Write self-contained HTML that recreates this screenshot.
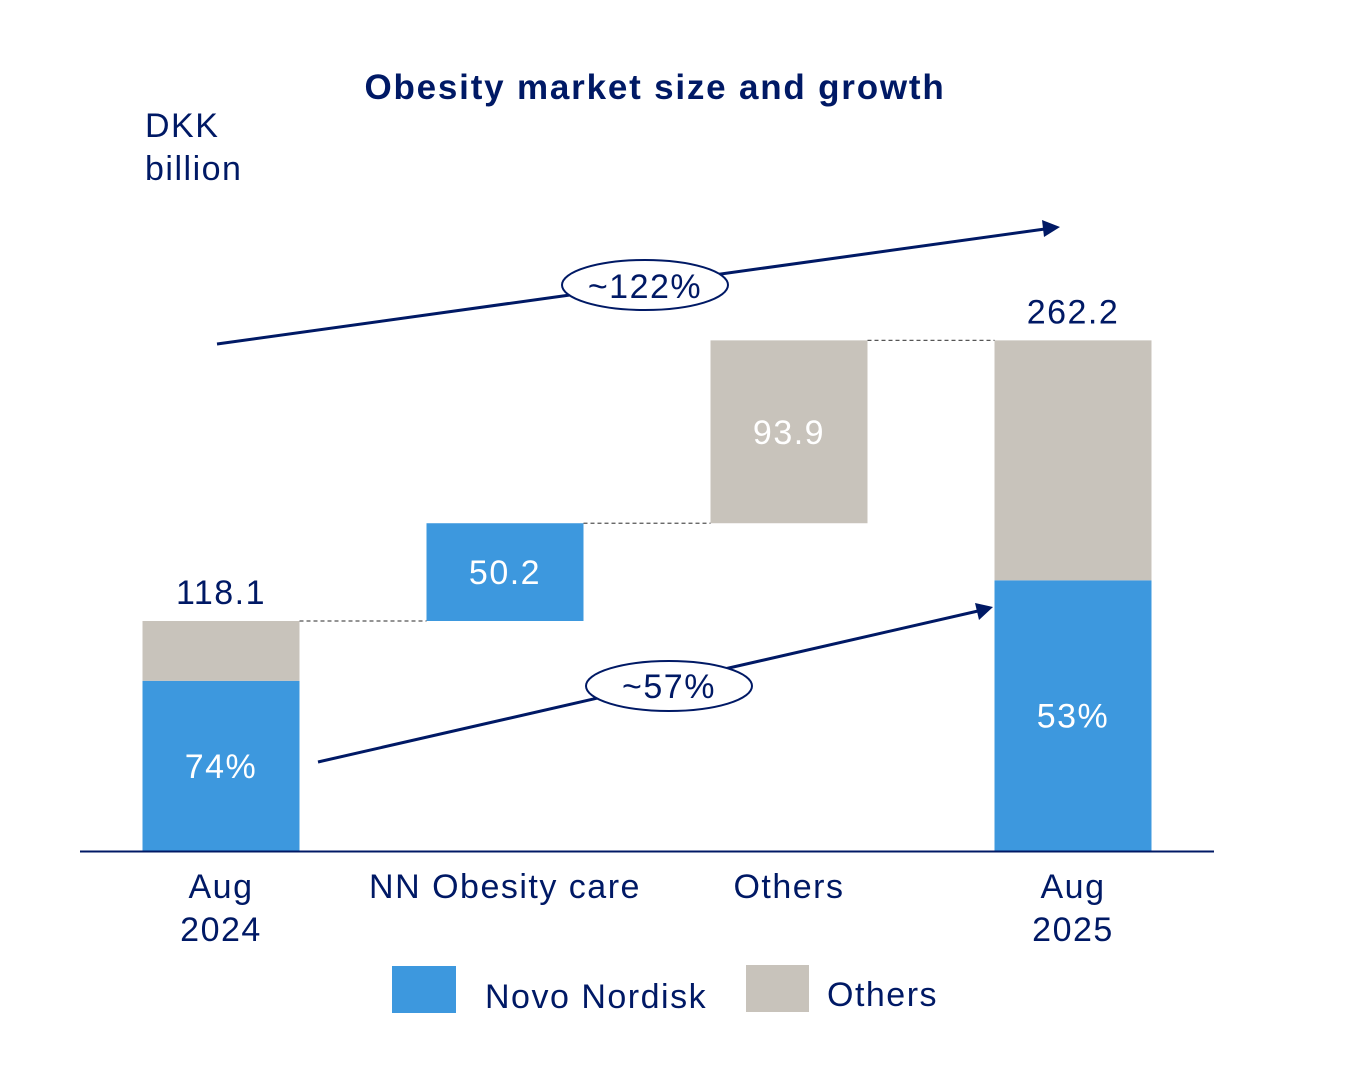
<!DOCTYPE html>
<html><head><meta charset="utf-8"><style>
html,body{margin:0;padding:0;background:#fff;}
svg{display:block;font-family:"Liberation Sans","DejaVu Sans",sans-serif;}
svg text{letter-spacing:1.5px;}
</style></head><body>
<svg id="chart" width="1360" height="1082" viewBox="0 0 1360 1082">
<text x="655" y="99" text-anchor="middle" font-size="35" font-weight="bold" fill="#001965" style="letter-spacing:1.8px">Obesity market size and growth</text>
<text x="145" y="137" font-size="34" fill="#001965">DKK</text>
<text x="145" y="180" font-size="34" fill="#001965">billion</text>
<g id="bars"></g>
<line x1="80" y1="851.5" x2="1214" y2="851.5" stroke="#001965" stroke-width="2"/>
<g>
<line x1="217" y1="344" x2="1045" y2="229" stroke="#001965" stroke-width="3"/>
<polygon points="1060,227 1042,220 1044,237" fill="#001965"/>
<ellipse cx="645" cy="285" rx="83" ry="25" fill="#fff" stroke="#001965" stroke-width="2"/>
<text x="645" y="298" text-anchor="middle" font-size="34" fill="#001965">~122%</text>
</g>
<g>
<line x1="318" y1="762" x2="978" y2="611" stroke="#001965" stroke-width="3"/>
<polygon points="993,607 975,603 979,620" fill="#001965"/>
<ellipse cx="669" cy="686" rx="83" ry="25" fill="#fff" stroke="#001965" stroke-width="2"/>
<text x="669" y="698" text-anchor="middle" font-size="34" fill="#001965">~57%</text>
</g>
<g>
<rect x="392" y="966" width="64" height="47" fill="#3d98de"/>
<text x="485" y="1008" font-size="34" fill="#001965">Novo Nordisk</text>
<rect x="746" y="965" width="63" height="47" fill="#c8c3bb"/>
<text x="827" y="1006" font-size="34" fill="#001965">Others</text>
</g>
</svg>
<script>
const categories = ["Aug|2024", "NN Obesity care", "Others", "Aug|2025"];
const novoValues = [87.4, 50.2, 0, 139.0];
const otherValues = [30.7, 0, 93.9, 123.2];
const totalLabels = ["118.1", "", "", "262.2"];
const innerLabels = ["74%", "50.2", "93.9", "53%"];
const isStep = [false, true, true, false];

const NS = "http://www.w3.org/2000/svg";
const baseY = 851, pxPerUnit = 230 / 118.1;
const xCenter = i => 221 + i * 284;
const yScale = v => baseY - v * pxPerUnit;
const barW = 157;
const g = document.getElementById("bars");
function mk(tag, attrs) { const e = document.createElementNS(NS, tag); for (const k in attrs) e.setAttribute(k, attrs[k]); g.appendChild(e); return e; }

let running = 0;
const tops = [];
categories.forEach((c, i) => {
  const x = xCenter(i) - barW / 2;
  const n = novoValues[i], o = otherValues[i];
  const base = isStep[i] ? running : 0;
  if (n > 0) {
    const r = mk("rect", {x: x, y: yScale(base + n), width: barW, height: n * pxPerUnit, fill: "#3d98de"});
    
    
  }
  if (o > 0) {
    const r = mk("rect", {x: x, y: yScale(base + n + o), width: barW, height: o * pxPerUnit, fill: "#c8c3bb"});
    
    
  }
  const top = base + n + o;
  tops.push(top);
  running = top;
  let ly;
  if (isStep[i]) ly = (yScale(base) + yScale(top)) / 2 + 12;
  else ly = (yScale(0) + yScale(n)) / 2 + 12;
  const t = mk("text", {x: xCenter(i), y: ly, "text-anchor": "middle", "font-size": 34, fill: "#fff"});
  t.textContent = innerLabels[i];
  
  
  if (totalLabels[i]) {
    const tt = mk("text", {x: xCenter(i), y: yScale(top) - 17, "text-anchor": "middle", "font-size": 34, fill: "#001965"});
    tt.textContent = totalLabels[i];
    
    
  }
  const parts = c.split("|");
  parts.forEach((p, k) => {
    const ct = mk("text", {x: xCenter(i), y: 898 + k * 43, "text-anchor": "middle", "font-size": 34, fill: "#001965"});
    ct.textContent = p;
    
    
  });
});
for (let i = 0; i < categories.length - 1; i++) {
  const y = yScale(tops[i]);
  const l = mk("line", {x1: xCenter(i) + barW / 2, y1: y, x2: xCenter(i + 1) - barW / 2, y2: y, stroke: "#555", "stroke-width": 1.2, "stroke-dasharray": "4,3"});
  
  
}
</script>
</body></html>
